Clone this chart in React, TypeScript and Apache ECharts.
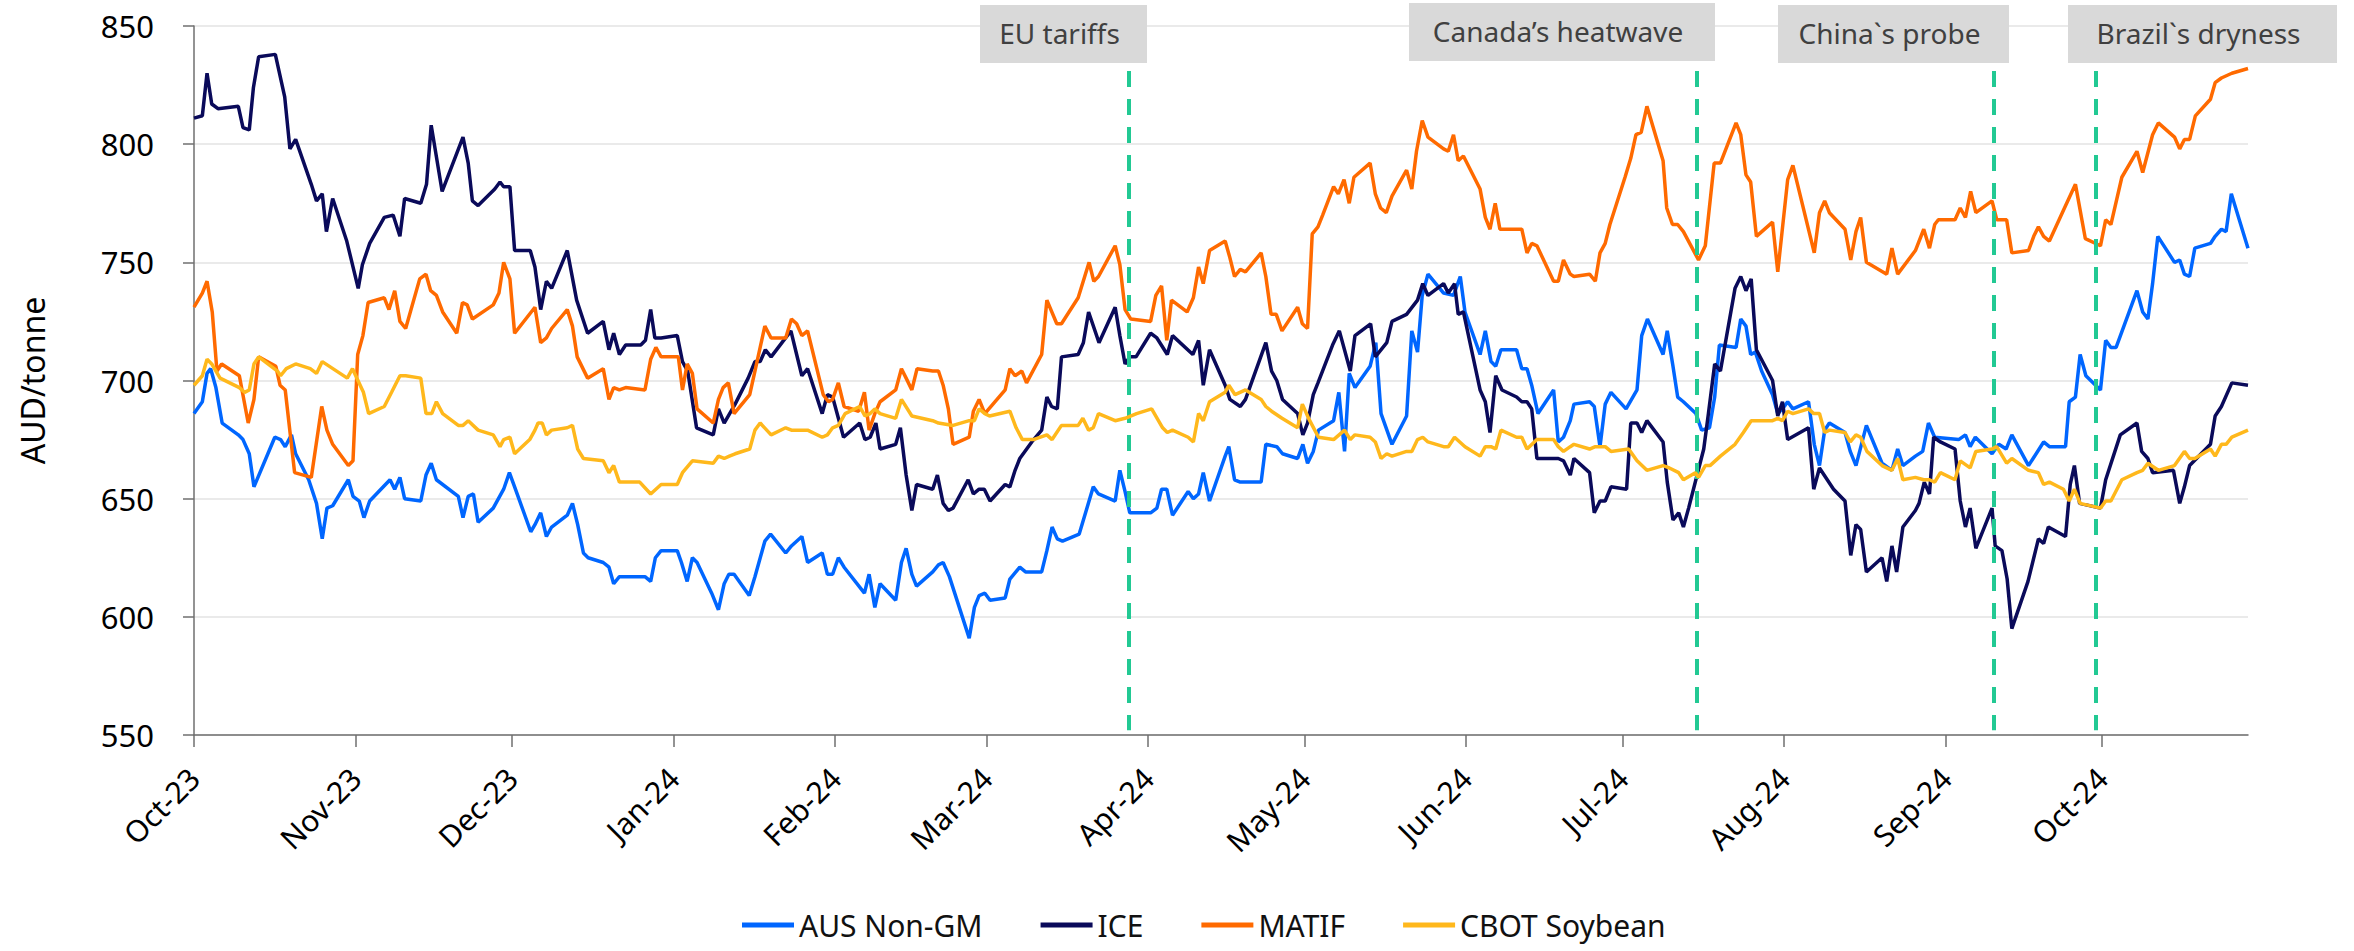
import React, { useEffect, useRef } from "react";
import * as echarts from "echarts";

// x values are days since 1 Oct 2023
const monthTickDays = [0, 31, 61, 92, 123, 152, 183, 213, 244, 274, 305, 336, 366];
const monthTickLabels = ["Oct-23", "Nov-23", "Dec-23", "Jan-24", "Feb-24", "Mar-24", "Apr-24", "May-24", "Jun-24", "Jul-24", "Aug-24", "Sep-24", "Oct-24"];
const lastDay = 394;

const seriesNames = ["AUS Non-GM", "ICE", "MATIF", "CBOT Soybean"];
const seriesColors = ["#0066ff", "#0a0a5a", "#ff6a00", "#ffb81c"];

const eventNames = ["EU tariffs", "Canada\u2019s heatwave", "China`s probe", "Brazil`s dryness"];
const eventDays = [179.4, 288.3, 345.3, 364.8];

const ausNonGm = [
  [0, 686], [1.6, 691], [2.5, 703], [3.2, 705], [4.2, 697], [5.4, 682], [8.5, 677], [9.4, 675], [10.6, 669], [11.5, 655],
  [15.5, 676], [16.6, 675], [17.5, 672], [18.7, 677], [19.5, 669], [22, 658], [23.5, 648], [24.6, 633], [25.5, 646], [26.6, 647],
  [29.6, 658], [30.5, 651], [31.7, 649], [32.6, 642], [33.7, 649], [37.6, 658], [38.5, 654], [39.5, 659], [40.4, 650], [43.5, 649],
  [44.5, 660], [45.5, 665], [46.5, 658], [50.7, 651], [51.6, 642], [52.6, 651], [53.6, 652], [54.5, 640], [57.4, 646], [59.4, 654],
  [60.5, 661], [61.5, 655], [64.6, 636], [65.4, 639], [66.5, 644], [67.6, 634], [68.6, 638], [71.6, 643], [72.6, 648], [73.6, 639],
  [74.7, 627], [75.6, 625], [78.5, 623], [79.6, 621], [80.5, 614], [81.6, 617], [86.5, 617], [87.6, 615], [88.5, 625], [89.6, 628],
  [92.7, 628], [93.5, 623], [94.6, 615], [95.6, 625], [96.5, 623], [99.3, 610], [100.6, 603], [101.7, 614], [102.6, 618], [103.6, 618],
  [106.5, 609], [107.6, 617], [109.5, 632], [110.6, 635], [113.5, 627], [114.6, 630], [116.6, 634], [117.7, 623], [120.5, 627], [121.5, 618],
  [122.5, 618], [123.6, 625], [124.7, 621], [128.6, 610], [129.5, 618], [130.6, 604], [131.6, 614], [134.6, 607], [135.7, 623], [136.6, 629],
  [137.7, 618], [138.6, 613], [141.7, 619], [142.8, 622], [143.7, 623], [144.9, 617], [148.7, 591], [149.7, 604], [150.6, 609], [151.7, 610],
  [152.7, 607], [155.6, 608], [156.5, 616], [158.4, 621], [159.5, 619], [162.6, 619], [163.6, 628], [164.6, 638], [165.6, 633], [166.6, 632],
  [169.8, 635], [172.5, 655], [173.5, 652], [176.7, 649], [177.6, 662], [178.6, 653], [179.5, 644], [183.5, 644], [184.7, 646], [185.6, 654],
  [186.6, 654], [187.7, 643], [190.7, 653], [191.7, 650], [192.7, 652], [193.6, 661], [194.8, 649], [197.8, 668], [198.5, 672], [199.6, 658],
  [200.7, 657], [201.7, 657], [204.7, 657], [205.6, 673], [207.7, 672], [208.8, 669], [211.7, 667], [212.7, 673], [213.6, 665], [214.7, 670],
  [215.7, 679], [218.6, 683], [219.6, 695], [220.7, 670], [221.6, 703], [222.7, 697], [225.6, 706], [226.7, 716], [227.7, 686], [229.8, 673],
  [232.6, 685], [233.6, 721], [234.7, 712], [235.6, 736], [236.7, 745], [239.7, 737], [241.6, 736], [242.9, 744], [243.8, 729], [246.7, 711],
  [247.7, 721], [248.8, 708], [249.7, 706], [250.7, 713], [253.7, 713], [254.7, 705], [255.7, 705], [256.6, 698], [257.8, 686], [260.8, 696],
  [261.7, 674], [262.7, 676], [264, 683], [264.7, 690], [267.7, 691], [268.6, 689], [269.7, 672], [270.7, 690], [271.8, 695], [274.7, 688],
  [276.8, 696], [277.7, 719], [278.8, 726], [281.8, 711], [282.6, 721], [283.7, 706], [284.6, 693], [285.7, 691], [288.1, 686], [289.2, 679],
  [290.7, 680], [291.7, 693], [292.6, 715], [295.8, 714], [296.7, 726], [297.7, 723], [298.6, 711], [299.5, 712], [300.7, 704], [302.8, 694],
  [303.8, 686], [304.7, 688], [305.7, 691], [306.7, 688], [309.7, 691], [310.8, 673], [311.8, 664], [312.8, 679], [313.7, 682], [316.7, 678],
  [317.7, 670], [318.8, 664], [320.8, 681], [323.8, 665], [325.7, 662], [326.8, 671], [327.8, 664], [330.2, 668], [331.6, 670], [332.7, 682],
  [333.9, 676], [338.5, 675], [339.8, 677], [340.7, 672], [341.7, 676], [344.9, 669], [346.2, 673], [347.6, 671], [348.7, 677], [351.9, 664],
  [354.8, 674], [355.9, 672], [359, 672], [359.7, 691], [360.9, 693], [361.8, 711], [362.9, 702], [365.7, 696], [366.7, 717], [367.7, 714],
  [368.7, 714], [372.7, 738], [373.8, 729], [374.8, 726], [375.7, 741], [376.7, 761], [379.9, 750], [380.9, 751], [381.8, 745], [382.8, 744],
  [383.8, 756], [386.8, 758], [387.7, 761], [388.9, 764], [389.8, 763], [390.8, 779], [394, 756]
];

const ice = [
  [0, 811], [1.6, 812], [2.5, 830], [3.4, 817], [4.6, 815], [8.5, 816], [9.4, 807], [10.6, 806], [11.4, 824], [12.4, 837],
  [15.6, 838], [17.4, 820], [18.4, 798], [19.5, 802], [22.5, 783], [23.5, 776], [24.6, 779], [25.4, 763], [26.6, 777], [29.3, 759],
  [31.5, 739], [32.3, 749], [33.7, 758], [36.5, 769], [38.2, 770], [39.5, 761], [40.4, 777], [43.5, 775], [44.6, 783], [45.5, 808],
  [47.6, 780], [51.6, 803], [52.6, 792], [53.4, 776], [54.5, 774], [57.7, 781], [58.7, 784], [59.4, 782], [60.6, 782], [61.5, 755],
  [64.5, 755], [65.4, 748], [66.5, 730], [67.6, 742], [68.6, 739], [71.6, 755], [73.4, 734], [75.5, 720], [78.5, 725], [79.6, 713],
  [80.5, 720], [81.6, 711], [82.8, 715], [85.7, 715], [86.6, 717], [87.6, 730], [88.4, 718], [89.6, 718], [92.7, 719], [93.7, 708],
  [94.7, 704], [96.4, 680], [99.6, 677], [100.6, 688], [101.7, 682], [103.8, 690], [106.3, 701], [107.6, 708], [108.6, 708], [109.6, 713],
  [110.7, 710], [114.5, 721], [115.6, 711], [116.6, 702], [117.7, 705], [120.5, 686], [121.5, 694], [122.5, 693], [124.6, 676], [127.7, 682],
  [128.7, 675], [129.7, 676], [130.8, 682], [131.6, 671], [134.6, 673], [135.5, 680], [136.6, 660], [137.7, 645], [138.6, 656], [141.7, 654],
  [142.6, 660], [143.7, 648], [144.7, 645], [145.6, 646], [148.5, 658], [149.5, 652], [150.6, 654], [151.6, 654], [152.7, 649], [155.6, 656],
  [156.5, 655], [157.5, 662], [158.4, 667], [160.7, 674], [162.6, 679], [163.6, 693], [164.5, 689], [165.6, 688], [166.4, 710], [169.6, 711],
  [170.6, 716], [171.6, 729], [173.6, 716], [176.7, 731], [177.6, 719], [178.6, 707], [179.5, 710], [180.7, 710], [183.5, 720], [184.7, 718],
  [186.7, 711], [187.7, 719], [191.6, 711], [192.7, 717], [193.6, 698], [194.8, 713], [197.8, 698], [198.7, 692], [200.7, 689], [201.7, 692],
  [205.6, 716], [206.7, 704], [207.7, 700], [208.8, 692], [211.7, 686], [212.7, 677], [213.6, 682], [214.7, 694], [215.6, 699], [218.4, 715],
  [219.7, 721], [221.8, 704], [222.7, 719], [225.7, 724], [226.6, 710], [228.8, 716], [229.8, 725], [232.6, 728], [234.7, 734], [235.7, 741],
  [236.7, 736], [239.7, 741], [240.6, 737], [241.8, 741], [242.5, 728], [243.5, 729], [246.7, 696], [247.7, 691], [248.6, 678], [249.7, 702],
  [250.9, 696], [253.7, 693], [254.7, 691], [255.7, 691], [256.6, 688], [257.6, 667], [261.7, 667], [262.7, 666], [264, 660], [264.7, 667],
  [267.7, 661], [268.6, 644], [269.7, 649], [270.7, 649], [271.8, 655], [274.8, 654], [275.6, 682], [276.8, 682], [277.7, 678], [278.7, 683],
  [281.8, 674], [282.6, 657], [283.7, 641], [284.8, 644], [285.7, 638], [286.7, 646], [289.6, 671], [290.5, 686], [291.7, 707], [292.8, 704],
  [295.6, 739], [296.7, 744], [297.7, 738], [298.7, 743], [299.7, 713], [302.8, 700], [303.8, 685], [304.7, 691], [305.7, 675], [309.7, 680],
  [310.7, 654], [311.8, 663], [314.5, 654], [316.7, 649], [317.8, 626], [318.8, 639], [319.7, 637], [320.8, 619], [323.8, 625], [324.7, 615],
  [325.7, 630], [326.6, 619], [327.8, 638], [330.2, 645], [330.9, 648], [331.9, 657], [332.9, 652], [333.7, 676], [335, 674], [337.8, 671],
  [338.8, 649], [339.8, 638], [340.7, 646], [341.8, 629], [344.9, 646], [345.5, 630], [346.8, 628], [347.8, 616], [348.7, 595], [351.8, 615],
  [353.8, 633], [354.8, 631], [355.7, 638], [359, 634], [359.9, 656], [360.7, 664], [361.7, 648], [365.7, 646], [366.7, 658], [369.5, 677],
  [372.7, 682], [373.6, 670], [374.8, 667], [375.7, 661], [379.7, 662], [380.9, 648], [381.8, 655], [382.8, 664], [386.8, 673], [387.7, 685],
  [388.9, 689], [390.9, 699], [394, 698]
];

const matif = [
  [0, 731], [1.6, 737], [2.5, 742], [3.5, 729], [4.4, 704], [5.3, 707], [8.7, 702], [10.4, 682], [11.5, 692], [12.4, 710],
  [15.7, 706], [16.5, 698], [17.5, 696], [19.3, 661], [22.5, 659], [24.5, 689], [25.5, 679], [26.6, 673], [29.6, 664], [30.5, 666],
  [31.4, 711], [32.4, 719], [33.4, 733], [36.5, 735], [37.4, 730], [38.5, 738], [39.5, 725], [40.6, 722], [43.3, 743], [44.5, 745],
  [45.4, 738], [46.5, 736], [47.7, 729], [50.4, 720], [51.5, 733], [52.4, 732], [53.4, 726], [57.4, 732], [58.5, 737], [59.4, 750],
  [60.6, 743], [61.5, 720], [65.4, 731], [66.5, 716], [67.6, 718], [68.6, 722], [71.6, 730], [72.6, 723], [73.5, 710], [75.5, 701],
  [78.5, 705], [79.6, 692], [80.5, 697], [81.6, 696], [82.8, 697], [86.5, 696], [87.6, 709], [88.6, 714], [89.6, 710], [92.9, 710],
  [93.7, 696], [94.6, 707], [95.6, 703], [96.5, 688], [99.6, 682], [100.6, 692], [101.5, 697], [102.5, 699], [103.6, 686], [106.6, 694],
  [107.6, 704], [109.5, 723], [110.7, 718], [113.5, 718], [114.6, 726], [115.6, 724], [116.6, 719], [117.7, 721], [120.7, 694], [121.7, 691],
  [122.5, 692], [123.6, 699], [124.7, 689], [127.5, 687], [128.6, 695], [129.5, 679], [130.6, 686], [131.6, 691], [134.6, 696], [135.7, 705],
  [136.6, 701], [137.7, 696], [138.7, 705], [141.7, 704], [142.8, 704], [143.7, 698], [144.7, 688], [145.6, 673], [148.7, 676], [149.5, 687],
  [150.6, 692], [151.7, 686], [155.6, 696], [156.5, 705], [157.5, 702], [158.8, 704], [159.7, 699], [162.6, 711], [163.6, 734], [165.5, 724],
  [166.4, 724], [169.6, 735], [171.7, 750], [172.6, 742], [173.5, 744], [176.7, 757], [177.6, 749], [178.6, 730], [179.7, 726], [183.5, 725],
  [184.5, 736], [185.6, 740], [186.6, 717], [187.5, 734], [190.5, 729], [191.7, 735], [192.7, 748], [193.6, 741], [194.8, 755], [197.8, 759],
  [198.7, 752], [199.6, 744], [200.7, 747], [201.7, 746], [204.7, 754], [205.6, 744], [206.6, 728], [207.6, 728], [208.7, 721], [211.7, 731],
  [212.6, 724], [213.6, 722], [214.5, 762], [215.6, 765], [216.5, 770], [218.6, 782], [219.5, 779], [220.6, 785], [221.6, 775], [222.5, 786],
  [225.6, 792], [226.6, 779], [227.6, 773], [228.7, 771], [229.8, 778], [232.6, 789], [233.6, 781], [234.5, 797], [235.6, 810], [236.7, 803],
  [239.7, 798], [240.6, 797], [241.6, 804], [242.5, 793], [243.5, 795], [246.7, 781], [247.7, 769], [248.6, 764], [249.6, 775], [250.5, 764],
  [254.7, 764], [255.7, 754], [256.6, 758], [257.6, 757], [260.8, 742], [261.7, 742], [262.7, 751], [264, 745], [264.7, 744], [267.7, 745],
  [268.8, 742], [269.7, 754], [270.7, 758], [271.6, 766], [274.5, 786], [275.6, 794], [276.6, 804], [277.6, 805], [278.7, 816], [281.8, 793],
  [282.5, 773], [283.6, 766], [284.6, 766], [285.7, 763], [288.6, 751], [289.9, 757], [291.6, 792], [292.8, 792], [295.8, 809], [296.7, 804],
  [297.7, 787], [298.6, 784], [299.7, 761], [302.8, 767], [303.8, 746], [305.7, 785], [306.7, 791], [310.8, 754], [311.8, 771], [312.8, 776],
  [313.7, 771], [316.7, 764], [317.8, 751], [318.8, 763], [319.7, 769], [320.8, 750], [324.7, 745], [325.7, 756], [326.8, 745], [330.2, 755],
  [331.8, 764], [332.9, 756], [333.9, 766], [334.6, 768], [337.8, 768], [338.8, 773], [339.8, 769], [340.8, 780], [341.8, 771], [344.9, 776],
  [345.8, 768], [347.7, 768], [348.7, 754], [351.9, 755], [352.9, 761], [353.8, 765], [354.8, 761], [355.9, 759], [358.6, 772], [360.9, 783],
  [362.8, 760], [365.7, 757], [366.7, 768], [367.7, 766], [369.8, 786], [372.7, 797], [373.8, 788], [375.7, 804], [376.8, 809], [379.9, 803],
  [380.9, 798], [381.8, 802], [382.8, 802], [383.9, 812], [386.8, 819], [387.7, 826], [388.9, 828], [390.9, 830], [394, 832]
];

const cbotSoybean = [
  [0, 698], [1.6, 702], [2.5, 709], [3.4, 707], [5, 701], [8.7, 697], [9.7, 695], [10.6, 696], [11.5, 707], [12.4, 710],
  [16, 704], [16.6, 702], [17.7, 705], [19.5, 707], [22.3, 705], [23.5, 703], [24.6, 708], [29.4, 701], [30.4, 705], [32.5, 695],
  [33.5, 686], [36.5, 689], [37.9, 695], [39.5, 702], [40.6, 702], [43.5, 701], [44.5, 686], [45.6, 686], [46.5, 691], [47.7, 686],
  [50.7, 681], [51.6, 681], [52.6, 683], [54.5, 679], [57.4, 677], [58.7, 672], [59.4, 675], [60.6, 676], [61.5, 669], [64.4, 675],
  [65.4, 679], [66, 682], [66.8, 682], [67.6, 677], [68.6, 679], [71.6, 680], [72.6, 681], [73.6, 671], [74.7, 667], [78.5, 666],
  [79.6, 661], [80.5, 664], [81.6, 657], [85.5, 657], [87.6, 652], [89.6, 656], [92.7, 656], [93.7, 661], [95.6, 666], [99.6, 665],
  [100.6, 668], [101.7, 667], [102.7, 668], [103.8, 669], [106.6, 671], [107.6, 679], [108.6, 682], [110.7, 677], [113.5, 680], [114.6, 679],
  [116.6, 679], [117.7, 679], [120.5, 676], [121.5, 677], [122.5, 680], [123.6, 681], [124.9, 686], [127.7, 689], [128.7, 685], [129.7, 686],
  [130.6, 688], [131.6, 686], [134.6, 684], [135.7, 692], [137.7, 685], [141.7, 683], [142.8, 682], [145.6, 681], [148.7, 683], [149.7, 683],
  [150.6, 688], [151.7, 686], [152.6, 685], [156.5, 687], [157.7, 680], [158.9, 675], [161, 675], [163.6, 677], [164.6, 675], [166.4, 681],
  [169.6, 681], [170.5, 684], [171.6, 679], [172.5, 680], [173.5, 686], [176.7, 683], [178.6, 684], [180.8, 686], [183.7, 688], [185.8, 680],
  [186.7, 678], [187.7, 679], [190.7, 676], [191.7, 674], [192.7, 686], [193.6, 683], [194.8, 691], [197.8, 695], [198.5, 698], [199.7, 694],
  [201.7, 696], [204.7, 692], [205.6, 689], [206.7, 687], [208.7, 684], [211.7, 680], [212.6, 690], [213.8, 684], [215.7, 676], [218.6, 675],
  [220.7, 679], [221.8, 675], [222.7, 677], [225.6, 676], [226.6, 674], [227.7, 667], [228.8, 669], [229.8, 668], [232.6, 670], [233.6, 670],
  [234.7, 675], [235.7, 676], [236.7, 674], [239.7, 672], [240.6, 672], [241.8, 676], [243.8, 672], [246.7, 668], [247.7, 672], [248.8, 672],
  [249.7, 671], [250.7, 679], [253.7, 676], [254.7, 676], [255.7, 671], [257.6, 675], [260.8, 675], [261.7, 672], [262.7, 670], [264, 672],
  [264.7, 673], [267.7, 671], [268.8, 672], [270.7, 672], [271.8, 670], [275.2, 671], [276.8, 666], [278.7, 662], [281.8, 664], [283, 663],
  [284.8, 661], [285.7, 658], [288, 661], [288.6, 659], [289.9, 664], [290.8, 664], [292.8, 668], [295.6, 673], [297.2, 678], [298.7, 683],
  [299.7, 683], [302.8, 683], [303.8, 684], [304.7, 683], [305.7, 687], [306.7, 686], [309.7, 688], [310.7, 686], [311.8, 686], [312.8, 678],
  [313.7, 679], [316.7, 678], [317.7, 674], [318.8, 677], [319.7, 676], [320.9, 670], [323.8, 664], [325.7, 662], [326.8, 667], [327.8, 658],
  [330.2, 659], [331.8, 658], [332.9, 658], [333.9, 657], [335, 661], [337.8, 658], [338.8, 666], [340.7, 663], [341.8, 670], [344.9, 671],
  [345.8, 672], [347.7, 665], [348.7, 667], [351.9, 662], [353.8, 661], [354.8, 656], [355.9, 657], [358.6, 654], [359.7, 649], [360.7, 654],
  [361.8, 648], [365.7, 646], [366.7, 649], [367.7, 649], [369.8, 658], [372.7, 661], [373.8, 662], [374.8, 665], [376.8, 662], [379.9, 664],
  [381.8, 670], [382.8, 667], [383.8, 667], [386.8, 671], [387.7, 668], [388.9, 673], [389.8, 673], [390.9, 676], [394, 679]
];

const seriesData = [ausNonGm, ice, matif, cbotSoybean];

const FONT = "Noto Sans";

export default function App() {
  const ref = useRef<HTMLDivElement>(null);

  useEffect(() => {
    if (!ref.current) return;
    const chart = echarts.init(ref.current, undefined, { renderer: "svg" });

    const boxes = [
      { x: 980, y: 5, w: 167, h: 58 },
      { x: 1409, y: 3, w: 306, h: 58 },
      { x: 1778, y: 5, w: 231, h: 58 },
      { x: 2068, y: 5, w: 269, h: 58 },
    ];

    const graphic: any[] = [];
    eventNames.forEach((name, i) => {
      const b = boxes[i];
      graphic.push({
        type: "rect",
        shape: { x: b.x, y: b.y, width: b.w, height: b.h },
        style: { fill: "#d9d9d9" },
        z: 10,
      });
      graphic.push({
        type: "text",
        x: b.x + b.w / 2 - 4,
        y: b.y + b.h / 2 - 1,
        style: {
          text: name,
          fill: "#404040",
          font: `28px "${FONT}"`,
          textAlign: "center",
          textVerticalAlign: "middle",
        },
        z: 11,
      });
    });

    const option: any = {
      animation: false,
      textStyle: { fontFamily: FONT },
      grid: { left: 194, right: 106, top: 26, bottom: 216 },
      legend: {
        left: 742,
        top: 910,
        padding: 0,
        icon: "rect",
        itemWidth: 52,
        itemHeight: 5,
        itemGap: 58,
        textStyle: { fontSize: 30, lineHeight: 30, color: "#111", fontFamily: FONT },
        data: seriesNames,
      },
      xAxis: {
        type: "value",
        min: 0,
        max: lastDay,
        axisLine: { show: true, lineStyle: { color: "#6f6f6f", width: 1.5 } },
        axisTick: { show: true, length: 12, customValues: monthTickDays, lineStyle: { color: "#6f6f6f", width: 1.5 } },
        axisLabel: {
          customValues: monthTickDays,
          rotate: 45,
          margin: 38,
          fontSize: 30,
          color: "#000",
          fontFamily: FONT,
          formatter: (v: number) => {
            const i = monthTickDays.indexOf(Math.round(v));
            return i >= 0 ? monthTickLabels[i] : "";
          },
        },
        splitLine: { show: false },
      },
      yAxis: {
        type: "value",
        min: 550,
        max: 850,
        interval: 50,
        name: "AUD/tonne",
        nameLocation: "middle",
        nameGap: 146,
        nameRotate: 90,
        nameTextStyle: { fontSize: 32, color: "#000", fontFamily: FONT },
        axisLine: { show: true, lineStyle: { color: "#6f6f6f", width: 1.5 } },
        axisTick: { show: true, length: 11, lineStyle: { color: "#6f6f6f", width: 1.5 } },
        axisLabel: { margin: 40, fontSize: 31, color: "#000", fontFamily: FONT },
        splitLine: { show: true, lineStyle: { color: "#e3e3e3", width: 1.5 } },
      },
      series: seriesNames.map((name, i) => {
        const s: any = {
          name,
          type: "line",
          data: seriesData[i],
          symbol: "none",
          showSymbol: false,
          color: seriesColors[i],
          lineStyle: { color: seriesColors[i], width: 3.5 },
          emphasis: { disabled: true },
          z: 2 + i,
        };
        if (i === seriesNames.length - 1) {
          s.markLine = {
            silent: true,
            symbol: ["none", "none"],
            label: { show: false },
            lineStyle: { color: "#22c993", width: 4, type: [16, 12] },
            data: eventDays.map((d) => [{ coord: [d, 831] }, { coord: [d, 552] }]),
          };
        }
        return s;
      }),
      graphic,
    };

    chart.setOption(option);
    return () => chart.dispose();
  }, []);

  return (
    <div
      ref={ref}
      style={{ position: "fixed", left: 0, top: 0, width: 2354, height: 951, background: "#fff" }}
    />
  );
}
